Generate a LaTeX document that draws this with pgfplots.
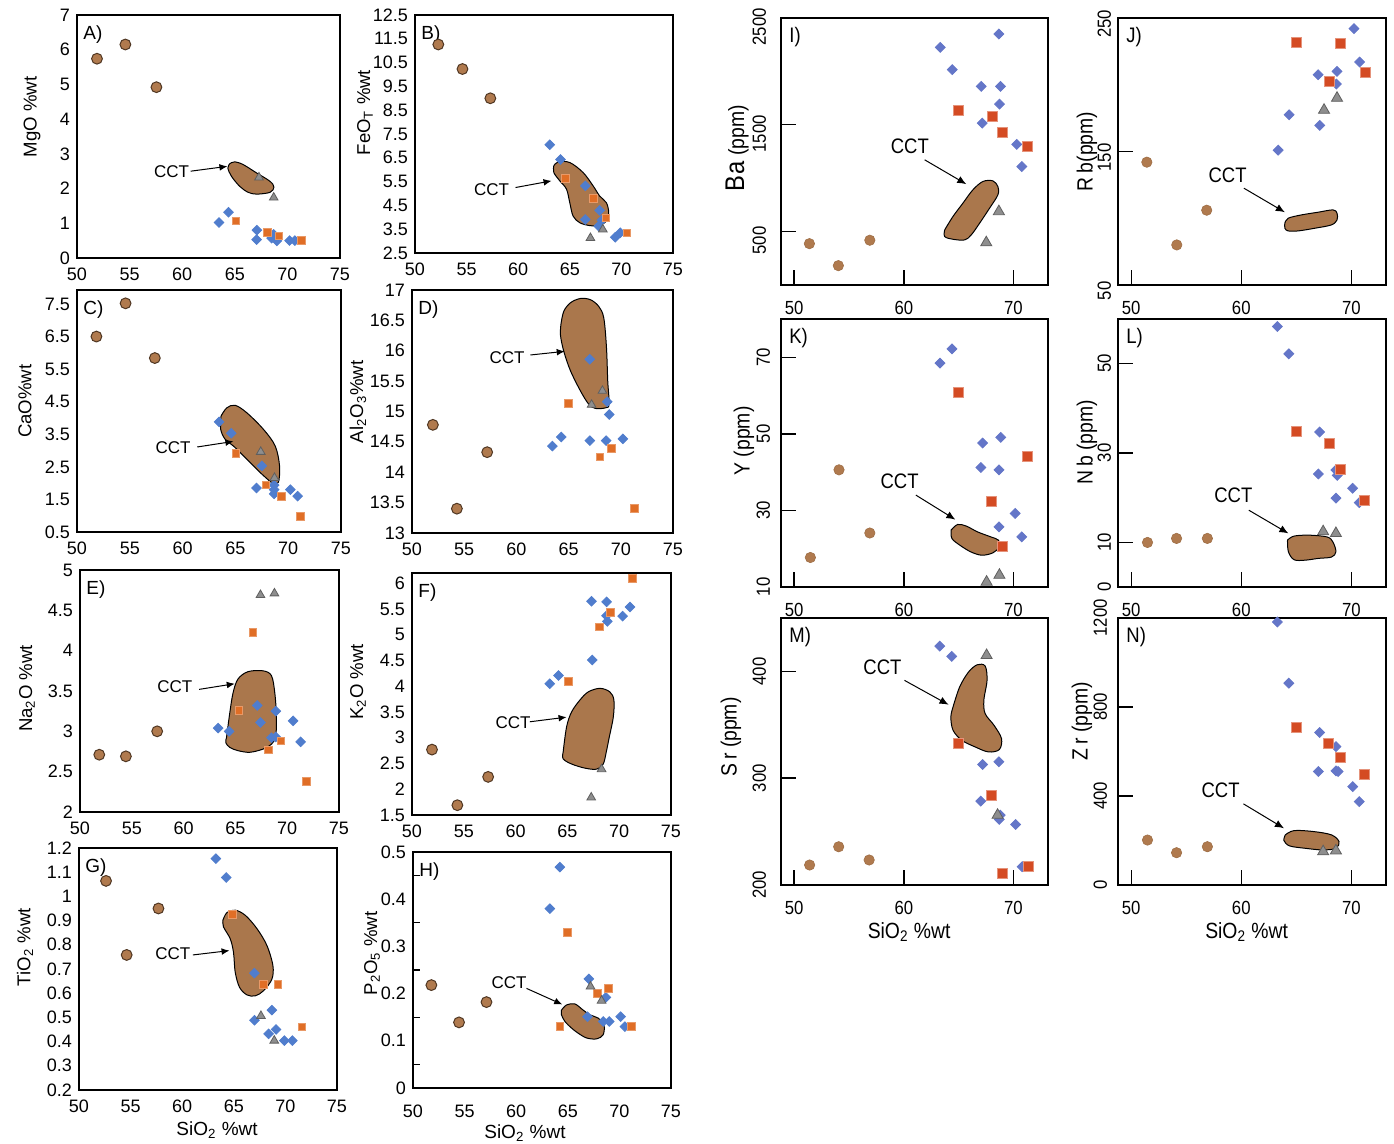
\documentclass[border=0pt]{standalone}
\usepackage{fontspec}
\setmainfont{Liberation Sans}
\newfontfamily\rfont[FakeStretch=0.88]{Liberation Sans}
\usepackage{pgfplots}
\pgfplotsset{compat=1.18}
\usetikzlibrary{arrows.meta}

\definecolor{cbrown}{RGB}{176,122,78}
\definecolor{cbrownD}{RGB}{80,55,35}
\definecolor{cpoly}{RGB}{170,119,76}
\definecolor{cblue}{RGB}{80,125,205}
\definecolor{cblueR}{RGB}{100,118,200}
\definecolor{corange}{RGB}{224,110,38}
\definecolor{corangeR}{RGB}{212,75,35}
\definecolor{cgrey}{RGB}{142,142,142}
\definecolor{cgreyD}{RGB}{95,95,95}

\pgfplotsset{
  common/.style={scale only axis, anchor=south west, clip=false, scaled ticks=false,
    /pgf/number format/assume math mode=true, /pgf/number format/1000 sep={}},
  leftax/.style={common, xmin=50, xmax=75, xtick={50,55,60,65,70,75},
    axis line style={line width=1.2pt}, major tick length=0pt, minor tick length=3.5pt,
    tick style={black, line width=0.6pt}, tick align=inside, ytick pos=left, xtick pos=bottom,
    tick label style={font=\fontsize{9}{10}\selectfont}, xticklabel shift=1.5pt,
    ylabel style={font=\fontsize{9.3}{10}\selectfont, anchor=center}},
  rightax/.style={common, xmin=48.8, xmax=73.15, xtick={50,60,70},
    axis line style={line width=0.6pt}, tick align=inside, major tick length=7.5pt,
    tick style={black, line width=0.7pt}, xtick pos=bottom, ytick pos=left,
    tick label style={font=\rfont\fontsize{9.5}{10}\selectfont},
    yticklabel style={rotate=90, anchor=south}, xticklabel shift=4.5pt,
    ylabel style={font=\rfont\fontsize{11}{12}\selectfont, anchor=center}},
  poly/.style={fill=cpoly, draw=black, line width=0.5pt, smooth, tension=0.55},
  circL/.style={only marks, mark=*, mark size=2.7pt, mark options={fill=cbrown, draw=cbrownD, line width=0.5pt}},
  diaL/.style={only marks, mark=square*, mark size=1.7pt, mark options={rotate=45, fill=cblue, draw=cblue}},
  sqL/.style={only marks, mark=square*, mark size=1.9pt, mark options={fill=corange, draw=corange!70!white, line width=0.4pt}},
  triL/.style={only marks, mark=triangle*, mark size=2.5pt, mark options={fill=cgrey, draw=cgreyD, line width=0.4pt}},
  circR/.style={only marks, mark=*, mark size=2.6pt, mark options={fill=cbrown, draw=cbrown!90!black, line width=0.3pt}},
  diaR/.style={only marks, mark=square*, mark size=1.75pt, mark options={rotate=45, fill=cblueR, draw=cblueR}},
  sqR/.style={only marks, mark=square*, mark size=2.5pt, mark options={fill=corangeR, draw=corangeR!60!white, line width=0.5pt}},
  triR/.style={only marks, mark=triangle*, mark size=3.2pt, mark options={fill=cgrey, draw=cgreyD, line width=0.4pt}},
}
\newcommand{\lab}[1]{\node[anchor=north west, inner sep=0pt, font=\fontsize{9.5}{10}\selectfont] at ([xshift=3pt,yshift=-5pt]rel axis cs:0,1) {#1};}
\newcommand{\rlab}[1]{\node[anchor=north west, inner sep=0pt, font=\rfont\fontsize{10.5}{11}\selectfont] at ([xshift=4pt,yshift=-4.5pt]rel axis cs:0,1) {#1};}
\newcommand{\cct}[6]{\node[font=\fontsize{8.5}{9}\selectfont, inner sep=0pt] at (axis cs:#1,#2) {CCT};
  \draw[-{Latex[length=4pt,width=3.4pt]}, line width=0.5pt] (axis cs:#3,#4) -- (axis cs:#5,#6);}
\newcommand{\rcct}[6]{\node[font=\rfont\fontsize{10.5}{11}\selectfont, inner sep=0pt] at (axis cs:#1,#2) {CCT};
  \draw[-{Latex[length=4.5pt,width=3.8pt]}, line width=0.5pt] (axis cs:#3,#4) -- (axis cs:#5,#6);}

\begin{document}
\begin{tikzpicture}
\useasboundingbox (0,0) rectangle (697pt,572pt);

% ---------------- A) MgO
\begin{axis}[leftax, at={(38.5pt,443pt)}, width=131.5pt, height=121.5pt,
  ymin=0, ymax=7, ytick={0,1,2,3,4,5,6,7},
  ylabel={MgO \%wt}, ylabel style={at={([xshift=-22.5pt]axis description cs:0,0.58)}}]
\addplot[poly] coordinates {(64.53,2.72)(65.0,2.77)(65.8,2.69)(67.07,2.45)(68.34,2.21)(68.72,2.04)(68.34,1.89)(67.07,1.84)(66.28,1.89)(65.48,2.06)(64.69,2.35)(64.34,2.59)(64.53,2.72)};
\addplot[circL] coordinates {(51.9,5.74)(54.6,6.15)(57.55,4.92)};
\addplot[diaL] coordinates {(63.5,1.02)(64.4,1.32)(67.1,0.80)(67.07,0.53)(68.7,0.68)(68.5,0.57)(69.0,0.49)(70.2,0.50)(70.7,0.50)};
\addplot[sqL] coordinates {(65.1,1.07)(68.1,0.73)(69.2,0.64)(71.35,0.51)};
\addplot[triL] coordinates {(67.3,2.32)(68.7,1.74)};
\cct{58.98}{2.5}{60.8}{2.5}{64.3}{2.64}
\lab{A)}
\end{axis}

% ---------------- B) FeOT
\begin{axis}[leftax, at={(207.5pt,445.5pt)}, width=129pt, height=119pt,
  ymin=2.5, ymax=12.5, ytick={2.5,3.5,4.5,5.5,6.5,7.5,8.5,9.5,10.5,11.5,12.5},
  ylabel={FeO\textsubscript{T} \%wt}, ylabel style={at={([xshift=-25pt]axis description cs:0,0.59)}}]
\addplot[poly] coordinates {(63.45,6.16)(63.87,6.33)(65.0,6.30)(66.29,5.88)(67.26,5.32)(67.9,4.89)(68.55,4.61)(68.77,4.19)(68.55,3.84)(67.84,3.65)(66.94,3.65)(65.97,3.77)(65.32,4.05)(65.0,4.61)(64.68,5.18)(64.03,5.53)(63.45,5.88)(63.45,6.16)};
\addplot[circL] coordinates {(52.26,11.26)(54.6,10.23)(57.3,9.0)};
\addplot[diaL] coordinates {(63.06,7.05)(64.1,6.43)(66.5,5.32)(66.5,3.91)(67.9,4.29)(68.1,3.88)(67.8,3.63)(69.4,3.16)(69.9,3.35)};
\addplot[sqL] coordinates {(64.6,5.63)(67.26,4.8)(68.5,3.98)(70.55,3.35)};
\addplot[triL] coordinates {(67.0,3.13)(68.2,3.49)};
\cct{57.42}{5.18}{59.74}{5.25}{63.23}{5.53}
\lab{B)}
\end{axis}

% ---------------- C) CaO
\begin{axis}[leftax, at={(38.5pt,306pt)}, width=132pt, height=121pt,
  ymin=0.5, ymax=7.93, ytick={0.5,1.5,2.5,3.5,4.5,5.5,6.5,7.5},
  ylabel={CaO\%wt}, ylabel style={at={([xshift=-26pt]axis description cs:0,0.54)}}]
\addplot[poly] coordinates {(63.64,4.06)(64.18,4.31)(64.97,4.39)(66.08,4.16)(67.66,3.65)(68.77,3.14)(69.18,2.53)(69.08,2.03)(68.61,1.98)(67.66,2.23)(66.71,2.53)(65.76,2.84)(64.81,3.14)(64.02,3.35)(63.61,3.65)(63.64,4.06)};
\addplot[circL] coordinates {(51.84,6.5)(54.6,7.52)(57.37,5.84)};
\addplot[diaL] coordinates {(63.45,3.88)(64.6,3.53)(67.5,2.53)(67.0,1.85)(68.67,1.94)(68.67,1.80)(68.67,1.67)(70.2,1.80)(70.9,1.60)};
\addplot[sqL] coordinates {(65.06,2.91)(67.88,1.94)(69.34,1.60)(71.14,0.98)};
\addplot[triL] coordinates {(67.4,2.96)(68.7,2.16)};
\cct{59.1}{3.09}{61.39}{3.11}{64.81}{3.28}
\lab{C)}
\end{axis}

% ---------------- D) Al2O3
\begin{axis}[leftax, at={(206pt,305.5pt)}, width=130.5pt, height=121.5pt,
  ymin=13, ymax=17, ytick={13,13.5,14,14.5,15,15.5,16,16.5,17},
  ylabel={Al\textsubscript{2}O\textsubscript{3}\%wt}, ylabel style={at={([xshift=-27pt]axis description cs:0,0.54)}}]
\addplot[poly] coordinates {(64.28,16.45)(64.54,16.65)(65.18,16.79)(66.13,16.86)(67.09,16.84)(67.89,16.73)(68.37,16.54)(68.63,16.05)(68.75,15.50)(68.88,15.12)(68.53,15.06)(67.57,15.05)(66.93,15.12)(66.13,15.34)(65.18,15.67)(64.54,15.99)(64.22,16.26)(64.28,16.45)};
\addplot[circL] coordinates {(52.0,14.78)(57.2,14.33)(54.3,13.40)};
\addplot[diaL] coordinates {(67.03,15.86)(68.7,15.16)(68.9,14.95)(63.45,14.43)(64.3,14.58)(67.03,14.52)(68.6,14.52)(70.2,14.55)};
\addplot[sqL] coordinates {(65.0,15.13)(68.0,14.25)(69.1,14.39)(71.28,13.40)};
\addplot[triL] coordinates {(67.2,15.11)(68.24,15.34)};
\cct{59.1}{15.89}{61.34}{15.93}{64.63}{15.99}
\lab{D)}
\end{axis}

% ---------------- E) Na2O
\begin{axis}[leftax, at={(40pt,166pt)}, width=129.5pt, height=121pt,
  ymin=2, ymax=5, ytick={2,2.5,3,3.5,4,4.5,5},
  ylabel={Na\textsubscript{2}O \%wt}, ylabel style={at={([xshift=-26.5pt]axis description cs:0,0.51)}}]
\addplot[poly] coordinates {(64.14,2.92)(64.46,3.23)(64.78,3.48)(65.26,3.65)(66.23,3.74)(67.67,3.75)(68.48,3.69)(68.8,3.48)(68.96,3.19)(68.89,2.94)(68.48,2.84)(67.67,2.78)(66.39,2.74)(65.26,2.76)(64.46,2.80)(64.07,2.86)(64.14,2.92)};
\addplot[circL] coordinates {(51.86,2.71)(54.43,2.69)(57.45,3.0)};
\addplot[diaL] coordinates {(63.34,3.04)(64.4,3.0)(67.1,3.32)(67.42,3.11)(68.9,3.25)(68.48,2.92)(68.9,2.93)(70.57,3.13)(71.3,2.87)};
\addplot[sqL] coordinates {(66.7,4.23)(65.33,3.26)(68.19,2.77)(69.38,2.88)(71.85,2.38)};
\addplot[triL] coordinates {(67.42,4.69)(68.77,4.71)};
\cct{59.16}{3.55}{61.5}{3.52}{64.94}{3.59}
\lab{E)}
\end{axis}

% ---------------- F) K2O
\begin{axis}[leftax, at={(206pt,164.5pt)}, width=129.5pt, height=121pt,
  ymin=1.5, ymax=6.2, ytick={1.5,2,2.5,3,3.5,4,4.5,5,5.5,6},
  ylabel={K\textsubscript{2}O \%wt}, ylabel style={at={([xshift=-27pt]axis description cs:0,0.55)}}]
\addplot[poly] coordinates {(64.59,2.72)(64.92,3.21)(65.4,3.5)(66.2,3.73)(67.01,3.89)(68.14,3.96)(69.1,3.89)(69.49,3.73)(69.43,3.4)(69.04,3.01)(68.78,2.75)(68.46,2.49)(67.82,2.39)(66.69,2.41)(65.4,2.49)(64.59,2.59)(64.59,2.72)};
\addplot[circL] coordinates {(51.93,2.77)(57.35,2.24)(54.38,1.69)};
\addplot[diaL] coordinates {(63.3,4.05)(64.14,4.21)(67.4,4.51)(67.33,5.65)(68.78,5.64)(68.78,5.37)(68.85,5.26)(70.33,5.36)(71.04,5.54)};
\addplot[sqL] coordinates {(65.1,4.1)(68.07,5.15)(69.17,5.43)(71.3,6.09)};
\addplot[triL] coordinates {(67.3,1.84)(68.3,2.39)};
\cct{59.76}{3.29}{61.37}{3.31}{64.92}{3.4}
\lab{F)}
\end{axis}

% ---------------- G) TiO2
\begin{axis}[leftax, at={(39.5pt,27pt)}, width=129pt, height=121pt,
  ymin=0.2, ymax=1.2, ytick={0.2,0.3,0.4,0.5,0.6,0.7,0.8,0.9,1,1.1,1.2},
  ylabel={TiO\textsubscript{2} \%wt}, ylabel style={at={([xshift=-27pt]axis description cs:0,0.59)}}]
\addplot[poly] coordinates {(63.94,0.901)(64.33,0.933)(65.14,0.943)(66.11,0.922)(67.24,0.867)(68.21,0.797)(68.79,0.714)(68.69,0.658)(67.88,0.61)(67.08,0.589)(66.27,0.593)(65.56,0.624)(65.14,0.686)(64.97,0.769)(64.65,0.825)(64.0,0.874)(63.94,0.901)};
\addplot[circL] coordinates {(52.62,1.064)(57.7,0.95)(54.62,0.758)};
\addplot[diaL] coordinates {(63.26,1.156)(64.26,1.078)(67.0,0.683)(67.0,0.488)(68.7,0.53)(68.37,0.432)(69.1,0.45)(69.9,0.404)(70.67,0.404)};
\addplot[sqL] coordinates {(64.88,0.925)(67.88,0.636)(69.27,0.636)(71.6,0.461)};
\addplot[triL] coordinates {(67.63,0.506)(68.92,0.404)};
\cct{59.09}{0.7625}{61.03}{0.758}{64.59}{0.776}
\lab{G)}
\node[font=\fontsize{9.5}{10}\selectfont] at ([yshift=-20pt]axis description cs:0.535,0) {SiO\textsubscript{2} \%wt};
\end{axis}

% ---------------- H) P2O5
\begin{axis}[leftax, at={(206.5pt,28pt)}, width=129pt, height=118pt,
  ymin=0, ymax=0.5, ytick={0,0.1,0.2,0.3,0.4,0.5}, minor ytick={0.05,0.15,0.25,0.35,0.45},
  xticklabel shift=5pt,
  ylabel={P\textsubscript{2}O\textsubscript{5} \%wt}, ylabel style={at={([xshift=-20.5pt]axis description cs:0,0.57)}}]
\addplot[poly] coordinates {(64.39,0.165)(64.88,0.176)(65.69,0.178)(66.49,0.165)(67.14,0.155)(67.95,0.148)(68.5,0.134)(68.43,0.113)(67.79,0.104)(66.82,0.106)(66.01,0.116)(65.36,0.127)(64.72,0.141)(64.39,0.155)(64.39,0.165)};
\addplot[circL] coordinates {(51.78,0.218)(54.46,0.139)(57.12,0.182)};
\addplot[diaL] coordinates {(64.23,0.468)(63.26,0.380)(67.04,0.231)(68.69,0.192)(66.91,0.151)(68.43,0.141)(69.02,0.141)(70.12,0.151)(70.54,0.13)};
\addplot[sqL] coordinates {(64.94,0.33)(64.23,0.13)(67.88,0.2)(68.92,0.211)(71.18,0.13)};
\addplot[triL] coordinates {(67.2,0.215)(68.27,0.185)};
\cct{59.31}{0.224}{61.0}{0.211}{64.46}{0.177}
\lab{H)}
\node[font=\fontsize{9.5}{10}\selectfont] at ([yshift=-22.5pt]axis description cs:0.434,0) {SiO\textsubscript{2} \%wt};
\end{axis}

% ---------------- I) Ba
\begin{axis}[rightax, at={(390.5pt,429.5pt)}, width=133.5pt, height=133.5pt,
  ymin=0, ymax=2500, ytick={500,1500,2500}, yticklabel shift=4pt,
  yticklabel style={xshift=-4.5pt},
  ylabel={{\fontsize{13.5}{14}\selectfont B\hspace{0.6pt}a} (ppm)}, ylabel style={at={([xshift=-22pt]axis description cs:0,0.513)}}]
\addplot[poly] coordinates {(63.73,516)(64.48,641)(65.39,766)(66.3,891)(67.21,969)(68.12,975)(68.58,922)(68.58,844)(67.82,719)(66.91,578)(66.15,469)(65.55,422)(64.48,428)(63.73,453)(63.73,516)};
\addplot[circR] coordinates {(51.39,387)(54.03,181)(56.9,419)};
\addplot[diaR] coordinates {(63.33,2225)(64.42,2016)(67.06,1859)(68.82,1859)(68.67,2350)(68.73,1694)(67.15,1516)(70.3,1316)(70.76,1109)};
\addplot[sqR] coordinates {(65.03,1631)(68.06,1578)(69.03,1428)(71.3,1297)};
\addplot[triR] coordinates {(68.67,688)(67.52,397)};
\rcct{60.55}{1297}{61.9}{1172}{65.7}{944}
\rlab{I)}
\end{axis}

% ---------------- J) Rb
\begin{axis}[rightax, at={(559pt,429.5pt)}, width=134pt, height=133.5pt,
  ymin=50, ymax=250, ytick={50,150,250}, yticklabel shift=0pt,
  yticklabel style={xshift=-3pt},
  ylabel={R\hspace{2pt}b(ppm)}, ylabel style={at={([xshift=-15.5pt]axis description cs:0,0.50)}}]
\addplot[poly] coordinates {(63.96,96.25)(64.26,100)(65.47,102.5)(66.98,104.5)(68.34,106.25)(68.7,103.75)(68.7,98.75)(68.19,95)(66.68,92.5)(65.17,90.5)(64.26,90.5)(63.96,92.5)(63.96,96.25)};
\addplot[circR] coordinates {(51.42,142)(56.86,106)(54.14,80)};
\addplot[diaR] coordinates {(63.35,151)(64.35,177.5)(67.13,169.5)(66.98,207.5)(68.7,210)(68.64,200.5)(70.24,242)(70.75,217)};
\addplot[sqR] coordinates {(65.02,232)(69.03,230.75)(68.04,202.5)(71.3,209.25)};
\addplot[triR] coordinates {(67.52,181)(68.7,190)};
\rcct{58.76}{132.5}{60.24}{122.5}{63.96}{104.5}
\rlab{J)}
\end{axis}

% ---------------- K) Y
\begin{axis}[rightax, at={(390.5pt,278.5pt)}, width=133.5pt, height=134pt,
  ymin=10, ymax=80, ytick={10,30,50,70}, yticklabel shift=2pt,
  ylabel={Y (ppm)}, ylabel style={at={([xshift=-18.5pt]axis description cs:0,0.545)}}]
\addplot[poly] coordinates {(64.31,24.85)(64.91,26.33)(65.71,25.9)(66.71,24.41)(67.92,23.1)(68.64,22.23)(68.72,20.48)(68.12,18.91)(67.11,18.3)(66.11,19.17)(65.11,20.92)(64.39,22.66)(64.31,24.85)};
\addplot[circR] coordinates {(51.48,17.7)(54.09,40.6)(56.9,24.1)};
\addplot[diaR] coordinates {(63.3,68.5)(64.39,72.2)(67.19,47.6)(68.84,49.1)(67.03,41.2)(68.68,40.6)(70.16,29.2)(68.68,25.7)(70.76,23.1)};
\addplot[sqR] coordinates {(65.03,60.8)(71.24,44.1)(68.04,32.4)(69.04,20.7)};
\addplot[triR] coordinates {(67.55,11.3)(68.72,13.1)};
\rcct{59.62}{37.5}{61.1}{34}{64.7}{27.6}
\rlab{K)}
\end{axis}

% ---------------- L) Nb
\begin{axis}[rightax, at={(559pt,278.5pt)}, width=134pt, height=134pt,
  ymin=0, ymax=60, ytick={0,10,30,50}, yticklabel shift=0pt,
  ylabel={N\hspace{2pt}b (ppm)}, ylabel style={at={([xshift=-15.5pt]axis description cs:0,0.54)}}]
\addplot[poly] coordinates {(64.2,10.5)(64.8,11.4)(66.2,11.6)(67.8,11.2)(68.32,10.1)(68.6,7.9)(68.2,6.7)(67.0,6.4)(65.8,6.0)(64.8,6.1)(64.28,7.9)(64.2,10.5)};
\addplot[circR] coordinates {(51.48,9.97)(54.12,10.87)(56.92,10.87)};
\addplot[diaR] coordinates {(63.28,58.3)(64.32,52.2)(67.12,34.7)(67.0,25.3)(68.6,26.2)(68.72,25.0)(68.6,19.9)(70.12,22.1)(70.72,18.9)};
\addplot[sqR] coordinates {(65.0,34.7)(68.0,32.1)(69.0,26.2)(71.2,19.3)};
\addplot[triR] coordinates {(67.44,12.4)(68.6,12.0)};
\rcct{59.28}{20.6}{60.68}{17.2}{64.28}{12.0}
\rlab{L)}
\end{axis}

% ---------------- M) Sr
\begin{axis}[rightax, at={(390.5pt,129.5pt)}, width=133.5pt, height=133.5pt,
  ymin=200, ymax=450, ytick={200,300,400}, yticklabel shift=4pt,
  ylabel={S\hspace{2pt}r (ppm)}, ylabel style={at={([xshift=-25pt]axis description cs:0,0.554)}}]
\addplot[poly] coordinates {(64.49,366.7)(65.09,385.4)(65.9,399.4)(66.7,406.2)(67.42,405)(67.59,391.6)(67.3,372.9)(67.42,360.4)(68.23,349.5)(68.91,337.1)(68.71,326.8)(67.71,324.6)(66.5,329.3)(65.29,335.5)(64.49,344.9)(64.29,357.3)(64.49,366.7)};
\addplot[circR] coordinates {(51.41,218.7)(54.06,235.8)(56.84,223.4)};
\addplot[diaR] coordinates {(63.28,423.7)(64.37,414)(67.18,312.8)(68.67,315.3)(67.02,278.5)(68.79,265.4)(68.71,261.4)(70.2,256.7)(70.8,217.1)};
\addplot[sqR] coordinates {(65.01,332.4)(68.03,283.5)(69.03,210.9)(71.33,217.1)};
\addplot[triR] coordinates {(67.55,415)(68.55,265.4)};
\rcct{58.05}{404}{60.06}{391.6}{64.08}{368.8}
\rlab{M)}
\node[font=\rfont\fontsize{11}{12}\selectfont] at ([yshift=-23.5pt]axis description cs:0.48,0) {SiO\textsubscript{2} \%wt};
\end{axis}

% ---------------- N) Zr
\begin{axis}[rightax, at={(559pt,129.5pt)}, width=134pt, height=133.5pt,
  ymin=0, ymax=1200, ytick={0,400,800,1200}, yticklabel shift=2pt,
  ylabel={Z\hspace{2pt}r (ppm)}, ylabel style={at={([xshift=-18pt]axis description cs:0,0.614)}}]
\addplot[poly] coordinates {(64.0,225)(64.8,244.5)(66.6,240)(68.2,225)(68.88,195)(68.6,165)(67.4,157.5)(65.8,165)(64.4,175.5)(63.88,199.5)(64.0,225)};
\addplot[circR] coordinates {(51.48,202)(54.12,145)(56.92,172)};
\addplot[diaR] coordinates {(63.28,1182)(64.32,907)(67.12,685)(68.6,622)(67.0,510)(68.6,513)(68.8,510)(70.12,442)(70.72,375)};
\addplot[sqR] coordinates {(65.0,709)(67.92,634)(69.0,574)(71.2,495)};
\addplot[triR] coordinates {(67.44,150)(68.6,154)};
\rcct{58.12}{424.5}{60.2}{364.5}{63.88}{255}
\rlab{N)}
\node[font=\rfont\fontsize{11}{12}\selectfont] at ([yshift=-23.5pt]axis description cs:0.48,0) {SiO\textsubscript{2} \%wt};
\end{axis}

\end{tikzpicture}
\end{document}
